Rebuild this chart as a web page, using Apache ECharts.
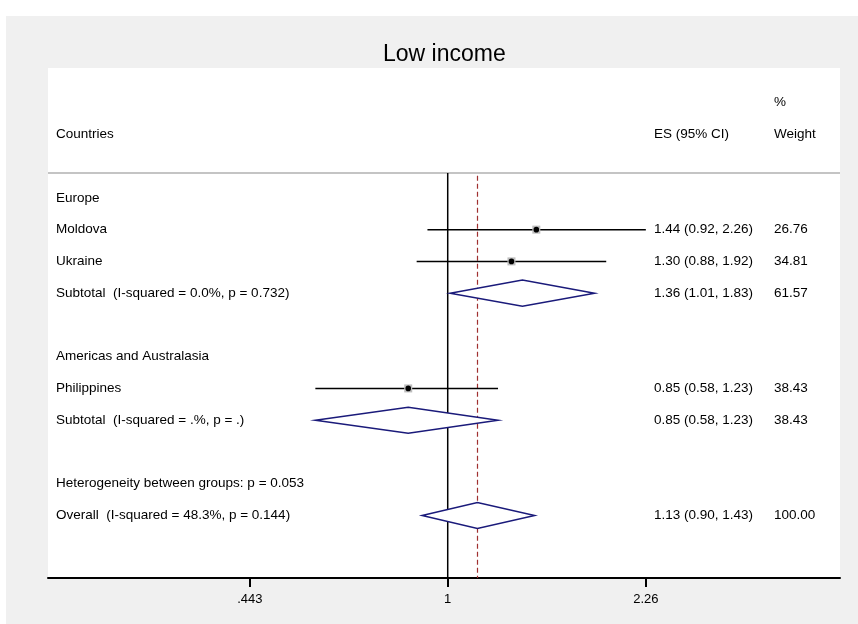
<!DOCTYPE html>
<html>
<head>
<meta charset="utf-8">
<style>html,body{margin:0;padding:0;background:#fff;}#chart{width:858px;height:624px;}</style>
<script src="https://cdn.jsdelivr.net/npm/echarts@6/dist/echarts.min.js"></script>
</head>
<body>
<div id="chart"></div>
<script>
// ---- data ----
var titleText = 'Low income';
var headerLabel = 'Countries';
var headerES = 'ES (95% CI)';
var headerWeightTop = '%';
var headerWeight = 'Weight';

var rowLabels = [
  'Europe',
  'Moldova',
  'Ukraine',
  'Subtotal  (I-squared = 0.0%, p = 0.732)',
  '',
  'Americas and Australasia',
  'Philippines',
  'Subtotal  (I-squared = .%, p = .)',
  '',
  'Heterogeneity between groups: p = 0.053',
  'Overall  (I-squared = 48.3%, p = 0.144)'
];

var studyRows   = [1, 2, 6];
var studyES     = [1.44, 1.30, 0.85];
var studyLo     = [0.92, 0.88, 0.58];
var studyHi     = [2.26, 1.92, 1.23];
var studyWeight = [26.76, 34.81, 38.43];

var pooledRows   = [3, 7, 10];
var pooledES     = [1.36, 0.85, 1.13];
var pooledLo     = [1.01, 0.58, 0.90];
var pooledHi     = [1.83, 1.23, 1.43];
var pooledWeight = [61.57, 38.43, 100.00];

var overallES = 1.13;
var nullValue = 1;

var tickValues = [0.443, 1, 2.26];
var tickLabels = ['.443', '1', '2.26'];

// ---- helpers ----
var L = Math.log;
var FONT = "'Liberation Sans', Arial, sans-serif";
var FS = 13.5;
function fmt(v){ return v.toFixed(2); }
function crisp(v){ return Math.round(v - 0.5) + 0.5; }

var textRows = [];
rowLabels.forEach(function(t, i){ textRows.push({row: i, col: 0, text: t}); });
studyRows.forEach(function(r, i){
  textRows.push({row: r, col: 1, text: fmt(studyES[i]) + ' (' + fmt(studyLo[i]) + ', ' + fmt(studyHi[i]) + ')'});
  textRows.push({row: r, col: 2, text: fmt(studyWeight[i])});
});
pooledRows.forEach(function(r, i){
  textRows.push({row: r, col: 1, text: fmt(pooledES[i]) + ' (' + fmt(pooledLo[i]) + ', ' + fmt(pooledHi[i]) + ')'});
  textRows.push({row: r, col: 2, text: fmt(pooledWeight[i])});
});
textRows.push({row: -2, col: 0, text: headerLabel});
textRows.push({row: -2, col: 1, text: headerES});
textRows.push({row: -2, col: 2, text: headerWeight});
textRows.push({row: -3, col: 2, text: headerWeightTop});

var colOffsets = [8, 606, 726];

var studyData = studyRows.map(function(r, i){ return [L(studyLo[i]), L(studyHi[i]), L(studyES[i]), r]; });
var pooledData = pooledRows.map(function(r, i){ return [L(pooledLo[i]), L(pooledHi[i]), L(pooledES[i]), r]; });

var Y_MIN = -4.09, Y_MAX = 11.97, SEP_ROW = -0.78;

var chart = echarts.init(document.getElementById('chart'), null, {renderer: 'canvas'});
chart.setOption({
  animation: false,
  backgroundColor: '#ffffff',
  graphic: [{
    type: 'rect', z: -10, silent: true,
    shape: {x: 6, y: 16, width: 852, height: 608},
    style: {fill: '#f0f0f0'}
  }],
  title: {
    text: titleText, left: 378, top: 38,
    textStyle: {fontFamily: FONT, fontSize: 23, fontWeight: 'normal', color: '#000'}
  },
  grid: {left: 48, right: 18, top: 68, bottom: 46, show: true, backgroundColor: '#ffffff', borderWidth: 0},
  xAxis: {
    type: 'value', min: -1.645, max: 1.6144,
    splitLine: {show: false},
    axisLine: {show: true, onZero: false, lineStyle: {color: '#000', width: 2}},
    axisTick: {show: true, length: 9, lineStyle: {color: '#000', width: 2}, customValues: tickValues.map(L)},
    axisLabel: {
      show: true, margin: 15, color: '#000', fontFamily: FONT, fontSize: 13,
      customValues: tickValues.map(L),
      formatter: function(v){
        for (var i = 0; i < tickValues.length; i++) if (Math.abs(L(tickValues[i]) - v) < 1e-6) return tickLabels[i];
        return '';
      }
    }
  },
  yAxis: {type: 'value', min: Y_MIN, max: Y_MAX, inverse: true, show: false},
  series: [
    { // separator + reference lines
      type: 'custom', z: 1, silent: true,
      data: [[0]],
      renderItem: function(params, api){
        var cs = params.coordSys;
        var ySep = api.coord([0, SEP_ROW])[1];
        var yBot = cs.y + cs.height;
        var xNull = api.coord([L(nullValue), 0])[0];
        var xOv = crisp(api.coord([L(overallES), 0])[0]);
        return {type: 'group', children: [
          {type: 'line', shape: {x1: cs.x, y1: ySep, x2: cs.x + cs.width, y2: ySep}, style: {stroke: '#c4c4c4', lineWidth: 2}},
          {type: 'line', shape: {x1: xNull, y1: ySep, x2: xNull, y2: yBot}, style: {stroke: '#000', lineWidth: 1.5}},
          {type: 'line', shape: {x1: xOv, y1: api.coord([0, -0.7])[1], x2: xOv, y2: yBot}, style: {stroke: '#a03030', lineWidth: 1.2, lineDash: [5, 3]}}
        ]};
      }
    },
    { // study CIs and points
      type: 'custom', z: 3, silent: true,
      data: studyData,
      renderItem: function(params, api){
        var y = api.coord([0, api.value(3)])[1];
        var x1 = api.coord([api.value(0), 0])[0];
        var x2 = api.coord([api.value(1), 0])[0];
        var xc = api.coord([api.value(2), 0])[0];
        return {type: 'group', children: [
          {type: 'line', shape: {x1: x1, y1: y, x2: x2, y2: y}, style: {stroke: '#000', lineWidth: 1.5}},
          {type: 'rect', shape: {x: xc - 4, y: y - 4, width: 8, height: 8}, style: {fill: '#bdbdbd'}},
          {type: 'circle', shape: {cx: xc, cy: y, r: 2.8}, style: {fill: '#000'}}
        ]};
      }
    },
    { // pooled diamonds
      type: 'custom', z: 3, silent: true,
      data: pooledData,
      renderItem: function(params, api){
        var r = api.value(3), h = 0.41;
        var pL = api.coord([api.value(0), r]);
        var pR = api.coord([api.value(1), r]);
        var pT = api.coord([api.value(2), r - h]);
        var pB = api.coord([api.value(2), r + h]);
        return {type: 'polygon', shape: {points: [pL, pT, pR, pB]}, style: {fill: '#ffffff', stroke: '#1a1a7a', lineWidth: 1.5}};
      }
    },
    { // text columns
      type: 'custom', z: 4, silent: true,
      data: textRows.map(function(t){ return [t.row]; }),
      renderItem: function(params, api){
        var t = textRows[params.dataIndex];
        var cs = params.coordSys;
        var y = api.coord([0, t.row])[1];
        return {type: 'text', x: cs.x + colOffsets[t.col], y: y,
          style: {text: t.text, fill: '#000', font: FS + 'px ' + FONT, textVerticalAlign: 'middle', textAlign: 'left'}};
      }
    }
  ]
});
</script>
</body>
</html>
